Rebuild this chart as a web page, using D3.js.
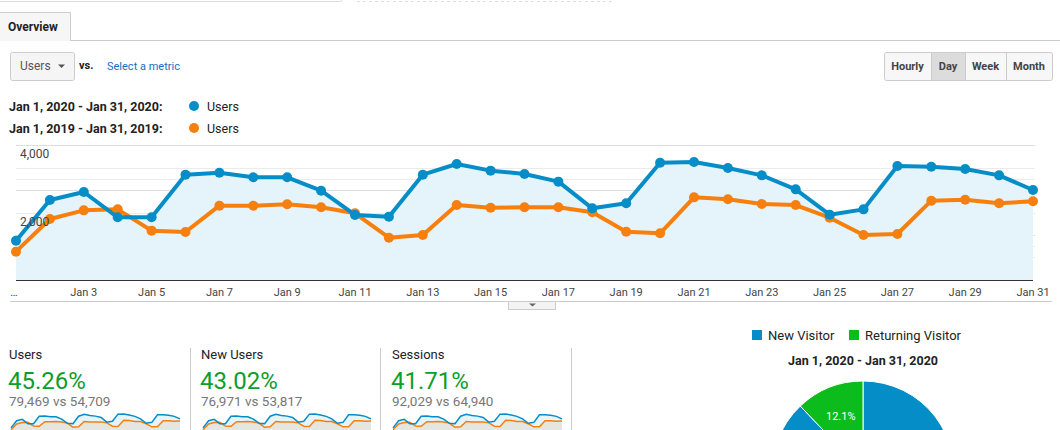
<!DOCTYPE html>
<html lang="en">
<head>
<meta charset="UTF-8">
<title>Audience Overview</title>
<script src="https://cdn.jsdelivr.net/npm/d3@7"></script>
<style>
    body { margin: 0; background: #fff; font-family: Roboto, Arial, sans-serif; }
    svg text { font-family: Roboto, Arial, sans-serif; }
    .grid line { stroke: #ebebeb; }
    .grid line.major { stroke: #dedede; }
    .yLabel { font-size: 12px; fill: #444; }
    .xLabel { font-size: 11px; fill: #444; text-anchor: middle; }
    .btn { font-size: 11px; font-weight: bold; fill: #444; text-anchor: middle; }
</style>
</head>
<body>
<svg id="fig" width="1060" height="430"></svg>
<script>
// ---- data ----
const days = [1,2,3,4,5,6,7,8,9,10,11,12,13,14,15,16,17,18,19,20,21,22,23,24,25,26,27,28,29,30,31]
const users2020 = [1164,2370,2607,1857,1857,3121,3180,3042,3042,2647,1926,1877,3121,3437,3240,3141,
                   2914,2123,2272,3476,3496,3319,3101,2686,1936,2093,3378,3358,3289,3101,2667]
const users2019 = [839,1807,2064,2093,1462,1422,2202,2202,2242,2153,1975,1254,1333,2222,2143,2153,
                   2153,2005,1432,1383,2449,2390,2252,2222,1847,1333,1363,2350,2380,2272,2331]
const tickDays = [1,3,5,7,9,11,13,15,17,19,21,23,25,27,29,31]
const tickLabels = ['…','Jan 3','Jan 5','Jan 7','Jan 9','Jan 11','Jan 13','Jan 15','Jan 17',
                    'Jan 19','Jan 21','Jan 23','Jan 25','Jan 27','Jan 29','Jan 31']
const yTicks = [2000, 4000]
const gridValues = [667, 1000, 1333, 2000, 2667, 3000, 3333, 4000]
const majorGrid = [1333, 2667, 4000]

const cardNames = ['Users', 'New Users', 'Sessions']
const cardChange = ['45.26%', '43.02%', '41.71%']
const cardCompare = ['79,469 vs 54,709', '76,971 vs 53,817', '92,029 vs 64,940']

const visitorTypes = ['New Visitor', 'Returning Visitor']
const visitorShare = [87.9, 12.1]

const blue = '#058dc7', orange = '#f77f0d', green = '#0cbb1c'

let svg = d3.select('#fig')

// ---- page chrome ----
svg.append('path').attr('d', 'M0,1.5 H340 Q343,1.5 343,-2').attr('fill', 'none').attr('stroke', '#ddd')
svg.append('line').attr('x1', 357).attr('x2', 612).attr('y1', 1.5).attr('y2', 1.5)
    .attr('stroke', '#ddd').attr('stroke-dasharray', '3,3')

// tab
svg.append('line').attr('x1', 70).attr('x2', 1060).attr('y1', 40.5).attr('y2', 40.5).attr('stroke', '#ccc')
svg.append('path').attr('d', 'M-1,12.5 H70.5 V41').attr('fill', '#f6f6f6').attr('stroke', '#ccc')
svg.append('rect').attr('x', 0).attr('y', 13).attr('width', 70).attr('height', 28).attr('fill', '#f6f6f6')
svg.append('text').attr('x', 8).attr('y', 31).attr('font-size', 12).attr('font-weight', 'bold')
    .attr('fill', '#222').text('Overview')

// metric picker
svg.append('rect').attr('x', 10.5).attr('y', 52.5).attr('width', 64).attr('height', 28).attr('rx', 2)
    .attr('fill', '#f5f5f5').attr('stroke', '#ccc')
svg.append('text').attr('x', 20).attr('y', 70).attr('font-size', 12).attr('fill', '#555').text('Users')
svg.append('path').attr('d', 'M58,64.5 h7 l-3.5,3.5 z').attr('fill', '#555')
svg.append('text').attr('x', 79).attr('y', 69).attr('font-size', 11).attr('font-weight', 'bold')
    .attr('fill', '#222').text('vs.')
svg.append('text').attr('x', 107).attr('y', 70).attr('font-size', 11).attr('fill', '#1a6dc2').text('Select a metric')

// hourly/day/week/month buttons
const btnLabels = ['Hourly', 'Day', 'Week', 'Month']
const btnEdges = [884, 931, 965, 1006, 1052]
svg.append('rect').attr('x', 884.5).attr('y', 52.5).attr('width', 168).attr('height', 28).attr('rx', 2)
    .attr('fill', '#f7f7f7').attr('stroke', '#ccc')
svg.append('rect').attr('x', 931).attr('y', 53).attr('width', 34).attr('height', 27).attr('fill', '#dcdcdc')
btnLabels.forEach(function (b, i) {
    if (i > 0) {
        svg.append('line').attr('x1', btnEdges[i] + 0.5).attr('x2', btnEdges[i] + 0.5)
            .attr('y1', 53).attr('y2', 80).attr('stroke', '#ccc')
    }
    svg.append('text').attr('class', 'btn').attr('x', (btnEdges[i] + btnEdges[i + 1]) / 2).attr('y', 70).text(b)
})

// legend
const legendRows = [['Jan 1, 2020 - Jan 31, 2020:', blue], ['Jan 1, 2019 - Jan 31, 2019:', orange]]
legendRows.forEach(function (r, i) {
    let y = 106 + i * 22
    svg.append('text').attr('x', 9).attr('y', y + 5).attr('font-size', 12.5).attr('font-weight', 'bold')
        .attr('fill', '#222').text(r[0])
    svg.append('circle').attr('cx', 194).attr('cy', y).attr('r', 5).attr('fill', r[1])
    svg.append('text').attr('x', 207).attr('y', y + 5).attr('font-size', 12.5).attr('fill', '#222').text('Users')
})

// ---- main line chart ----
let x = d3.scaleLinear().domain([1, 31]).range([16, 1033])
let y = d3.scaleLinear().domain([0, 4000]).range([280, 145])

let grid = svg.append('g').attr('class', 'grid')
grid.selectAll('line').data(gridValues).join('line')
    .attr('class', function (d) { return majorGrid.includes(d) ? 'major' : null })
    .attr('x1', 16).attr('x2', 1035)
    .attr('y1', function (d) { return Math.round(y(d)) + 0.5 })
    .attr('y2', function (d) { return Math.round(y(d)) + 0.5 })

let area = d3.area()
    .x(function (d, i) { return x(days[i]) })
    .y0(y(0))
    .y1(function (d) { return y(d) })
svg.append('path').datum(users2020).attr('d', area).attr('fill', '#e5f3fa')

let line = d3.line()
    .x(function (d, i) { return x(days[i]) })
    .y(function (d) { return y(d) })

const series = [[users2019, orange], [users2020, blue]]
series.forEach(function (s) {
    svg.append('path').datum(s[0]).attr('d', line).attr('fill', 'none')
        .attr('stroke', s[1]).attr('stroke-width', 4).attr('stroke-linejoin', 'round')
    svg.append('g').selectAll('circle').data(s[0]).join('circle')
        .attr('cx', function (d, i) { return x(days[i]) })
        .attr('cy', function (d) { return y(d) })
        .attr('r', 5).attr('fill', s[1])
})
svg.append('line').attr('x1', 16).attr('x2', 1033).attr('y1', 280.5).attr('y2', 280.5).attr('stroke', '#333')

// y labels sit on top of the lines
svg.selectAll('.yLabel').data(yTicks).join('text').attr('class', 'yLabel')
    .attr('x', 20).attr('y', function (d) { return y(d) + 13 })
    .text(d3.format(','))

svg.selectAll('.xLabel').data(tickDays).join('text').attr('class', 'xLabel')
    .attr('x', function (d) { return d === 1 ? 14 : x(d) })
    .attr('y', 296)
    .text(function (d, i) { return tickLabels[i] })

// collapse strip
svg.append('line').attr('x1', 10).attr('x2', 1052).attr('y1', 301.5).attr('y2', 301.5).attr('stroke', '#ccc')
svg.append('rect').attr('x', 508.5).attr('y', 301.5).attr('width', 47).attr('height', 8)
    .attr('fill', '#f3f3f3').attr('stroke', '#ccc')
svg.append('path').attr('d', 'M529,303.5 h7 l-3.5,3 z').attr('fill', '#666')

// ---- scorecards ----
const cardX = [9, 201, 392]
const sparkX = [[11, 180], [203, 371], [393, 562]]
const sepX = [190, 380, 571]
sepX.forEach(function (sx) {
    svg.append('line').attr('x1', sx + 0.5).attr('x2', sx + 0.5).attr('y1', 348).attr('y2', 430).attr('stroke', '#ccc')
})
cardNames.forEach(function (name, c) {
    svg.append('text').attr('x', cardX[c]).attr('y', 359).attr('font-size', 13).attr('fill', '#222').text(name)
    svg.append('text').attr('x', cardX[c] - 1).attr('y', 389).attr('font-size', 24).attr('fill', '#0b9e2a').text(cardChange[c])
    svg.append('text').attr('x', cardX[c]).attr('y', 406).attr('font-size', 13.5).attr('fill', '#777').text(cardCompare[c])

    let sx = d3.scaleLinear().domain([1, 31]).range(sparkX[c])
    let sy = d3.scaleLinear().domain([800, 3500]).range([430, 414])
    let under = d3.area().x(function (d, i) { return sx(days[i]) }).y0(440).y1(function (d) { return sy(d) })
    let sl = d3.line().x(function (d, i) { return sx(days[i]) }).y(function (d) { return sy(d) })
    svg.append('path').datum(users2020).attr('d', under).attr('fill', '#e5f3fa')
    svg.append('path').datum(users2019).attr('d', under).attr('fill', '#e6e6e1')
    svg.append('path').datum(users2019).attr('d', sl).attr('fill', 'none').attr('stroke', orange).attr('stroke-width', 1.5)
    svg.append('path').datum(users2020).attr('d', sl).attr('fill', 'none').attr('stroke', blue).attr('stroke-width', 1.5)
})

// ---- pie ----
const pieColors = [blue, green]
const legX = [752, 849]
visitorTypes.forEach(function (t, i) {
    svg.append('rect').attr('x', legX[i]).attr('y', 330).attr('width', 10).attr('height', 10).attr('fill', pieColors[i])
    svg.append('text').attr('x', legX[i] + 16).attr('y', 340).attr('font-size', 13).attr('fill', '#222').text(t)
})
svg.append('text').attr('x', 863).attr('y', 365).attr('font-size', 12.5).attr('font-weight', 'bold')
    .attr('text-anchor', 'middle').attr('fill', '#222').text('Jan 1, 2020 - Jan 31, 2020')

let pie = d3.pie().sort(null)
let arc = d3.arc().innerRadius(0).outerRadius(91)
let pieG = svg.append('g').attr('transform', 'translate(863,472)')
let slices = pie(visitorShare)
pieG.selectAll('path').data(slices).join('path')
    .attr('d', arc)
    .attr('fill', function (d, i) { return pieColors[i] })
    .attr('stroke', '#fff').attr('stroke-width', 1)
let labelArc = d3.arc().innerRadius(60).outerRadius(60)
pieG.append('text')
    .attr('transform', 'translate(' + labelArc.centroid(slices[1]) + ')')
    .attr('text-anchor', 'middle').attr('dy', '0.35em')
    .attr('font-size', 11).attr('fill', '#fff')
    .text(visitorShare[1] + '%')
</script>
</body>
</html>
